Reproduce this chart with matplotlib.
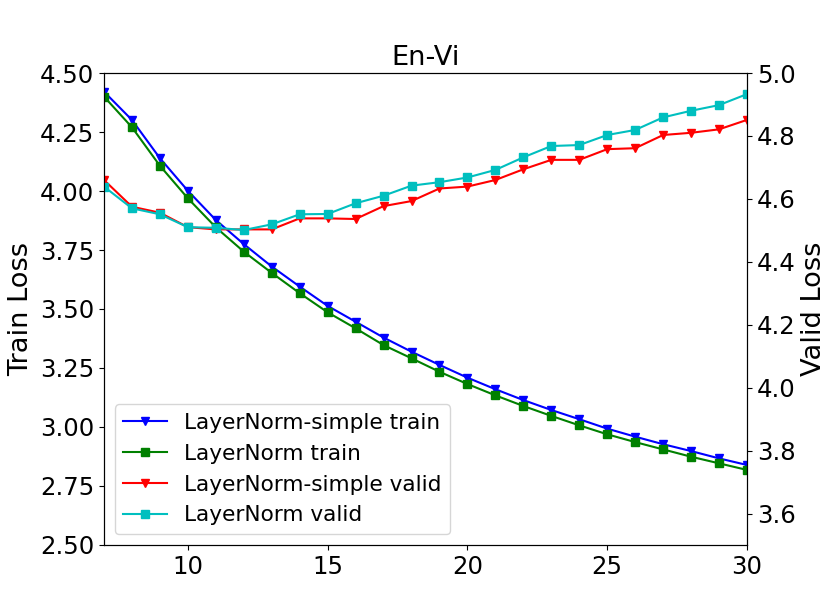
import matplotlib
matplotlib.use('Agg')
import matplotlib.pyplot as plt

# epochs
epochs = list(range(7, 31))

# train loss (left axis)
ln_simple_train = [4.421, 4.301, 4.139, 4.001, 3.877, 3.775, 3.680, 3.595, 3.513, 3.446,
                   3.379, 3.319, 3.263, 3.209, 3.160, 3.114, 3.072, 3.033, 2.993, 2.959,
                   2.927, 2.898, 2.867, 2.839]
ln_train = [4.400, 4.270, 4.107, 3.969, 3.846, 3.743, 3.653, 3.567, 3.486, 3.418,
            3.347, 3.291, 3.234, 3.182, 3.134, 3.089, 3.047, 3.007, 2.969, 2.936,
            2.905, 2.874, 2.846, 2.818]

# valid loss (right axis)
ln_simple_valid = [4.660, 4.575, 4.556, 4.510, 4.503, 4.503, 4.503, 4.538, 4.538, 4.536,
                   4.577, 4.593, 4.633, 4.639, 4.660, 4.694, 4.724, 4.724, 4.758, 4.761,
                   4.803, 4.810, 4.821, 4.851]
ln_valid = [4.639, 4.570, 4.551, 4.510, 4.508, 4.501, 4.519, 4.551, 4.552, 4.586,
            4.610, 4.642, 4.653, 4.668, 4.692, 4.732, 4.768, 4.771, 4.803, 4.819,
            4.859, 4.880, 4.898, 4.933]

fig = plt.figure(figsize=(8.3, 6.12), dpi=100)
ax = fig.add_axes([0.1253, 0.1095, 0.7747, 0.7712])
ax2 = ax.twinx()

l1, = ax.plot(epochs, ln_simple_train, 'b-v', lw=1.5, label='LayerNorm-simple train')
l2, = ax.plot(epochs, ln_train, 'g-s', lw=1.5, label='LayerNorm train')
l3, = ax2.plot(epochs, ln_simple_valid, 'r-v', lw=1.5, label='LayerNorm-simple valid')
l4, = ax2.plot(epochs, ln_valid, 'c-s', lw=1.5, label='LayerNorm valid')

ax.set_xlim(7, 30)
ax.set_ylim(2.5, 4.5)
ax2.set_ylim(3.5, 5.0)
ax.set_xticks([10, 15, 20, 25, 30])
ax.set_yticks([2.5, 2.75, 3.0, 3.25, 3.5, 3.75, 4.0, 4.25, 4.5])
ax.set_yticklabels(['%.2f' % v for v in ax.get_yticks()])
ax2.set_yticks([3.6, 3.8, 4.0, 4.2, 4.4, 4.6, 4.8, 5.0])

ax.tick_params(labelsize=17.6)
ax2.tick_params(labelsize=17.6)
ax.set_ylabel('Train Loss', fontsize=19.6)
ax2.set_ylabel('Valid Loss', fontsize=19.6)
ax.set_title('En-Vi', fontsize=19.6)

ax2.legend([l1, l2, l3, l4], [l.get_label() for l in [l1, l2, l3, l4]],
           loc='lower left', fontsize=15.6)

fig.savefig('out.png', dpi=100)
